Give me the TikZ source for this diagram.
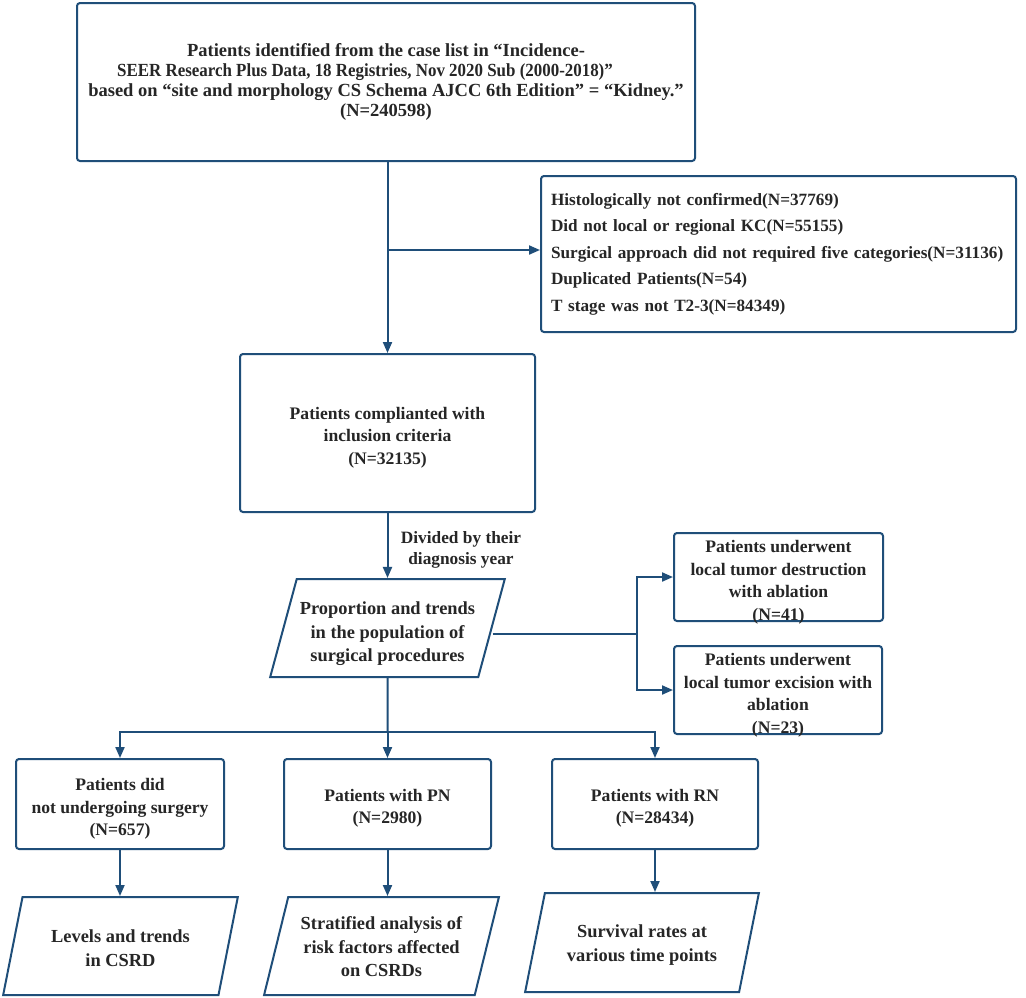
\documentclass[tikz,border=0pt]{standalone}
\usepackage{fontspec}
\setmainfont{Liberation Serif}
\usetikzlibrary{arrows.meta,shapes.geometric}
\definecolor{lineblue}{RGB}{31,78,121}
\definecolor{txt}{RGB}{38,38,38}
\newcommand\Lift[1]{\rule{0pt}{#1}}
\begin{document}
\begin{tikzpicture}[x=1pt,y=-1pt,
  box/.style={draw=lineblue,line width=2pt,rounded corners=3pt,inner sep=0pt,align=center,text=txt,font=\bfseries\fontsize{17.6}{22.5}\selectfont},
  para/.style={draw=lineblue,line width=2pt,trapezium,trapezium left angle=71.4,trapezium right angle=108.6,trapezium stretches=true,inner sep=0pt,align=center,text=txt,font=\bfseries\fontsize{18.4}{23.5}\selectfont},
  conn/.style={draw=lineblue,line width=2pt},
  arr/.style={conn,-{Triangle[length=11pt,width=9pt]}},
  lbl/.style={align=center,text=txt,font=\bfseries\fontsize{17.3}{21}\selectfont}]
\useasboundingbox (0,0) rectangle (1026,997);
\fill[white] (0,0) rectangle (1026,997);
% top box
\node[box,minimum width=618pt,minimum height=158pt,font=\bfseries\fontsize{18.5}{20}\selectfont] (top) at (386,82)
 {Patients identified from the case list in “Incidence-\\\scalebox{0.915}[1]{SEER Research Plus Data, 18 Registries, Nov 2020 Sub (2000-2018)”}\hbox to 42pt{}\\based on “site and morphology CS Schema AJCC 6th Edition” = “Kidney.”\\(N=240598)};
% exclusion box
\node[box,minimum width=475pt,minimum height=156pt,align=left,font=\bfseries\fontsize{17.2}{26.5}\selectfont,text width=455pt] (excl) at (778.5,254)
 {Histologically not confirmed(N=37769)\\Did not local or regional KC(N=55155)\\Surgical approach did not required five categories(N=31136)\\Duplicated Patients(N=54)\\T stage was not T2-3(N=84349)};
% middle box
\node[box,minimum width=295pt,minimum height=158pt] (mid) at (387.5,433)
 {\Lift{21pt}Patients complianted with\\inclusion criteria\\(N=32135)};
% label
\node[lbl] (div) at (461,550) {Divided by their\\diagnosis year};
% parallelogram 1
\node[para,minimum width=235pt,minimum height=98pt] (p1) at (387.5,628)
 {\Lift{25pt}Proportion and trends\\in the population of\\surgical procedures};
% right boxes
\node[box,minimum width=209pt,minimum height=88pt] (r1) at (778.5,577)
 {\Lift{19pt}Patients underwent\\local tumor destruction\\with ablation\\\smash{(N=41)}};
\node[box,minimum width=208pt,minimum height=88pt] (r2) at (778,690)
 {\Lift{19pt}Patients underwent\\local tumor excision with\\ablation\\\smash{(N=23)}};
% bottom boxes
\node[box,minimum width=208pt,minimum height=90pt] (ba) at (120,804)
 {\Lift{22pt}Patients did\\not undergoing surgery\\(N=657)};
\node[box,minimum width=207pt,minimum height=90pt] (bb) at (387.5,804)
 {\Lift{21pt}Patients with PN\\(N=2980)};
\node[box,minimum width=206pt,minimum height=90pt] (bc) at (655,804)
 {\Lift{21pt}Patients with RN\\(N=28434)};
% bottom parallelograms
\node[para,minimum width=235pt,minimum height=98pt] (pa) at (120.5,946)
 {\Lift{17pt}Levels and trends\\in CSRD};
\node[para,minimum width=235pt,minimum height=98pt] (pb) at (381.5,946)
 {\Lift{15pt}Stratified analysis of\\risk factors affected\\on CSRDs};
\node[para,minimum width=234pt,minimum height=99pt] (pc) at (642,942.5)
 {\Lift{18pt}Survival rates at\\various time points};
% connectors
\coordinate (j1) at (388,250);
\draw[arr] (mid.north |- top.south) -- (mid.north);
\draw[arr] (j1) -- (j1 -| excl.west);
\draw[arr] (mid.south) -- (mid.south |- p1.north);
\coordinate (j2) at (637,634);
\draw[conn] (p1.east |- j2) -- (j2);
\draw[arr] (j2) |- (r1.west);
\draw[arr] (j2) |- (r2.west);
\coordinate (j3) at (387.5,732);
\draw[conn] (p1.south) -- (j3);
\draw[arr] (j3) -| (ba.north);
\draw[arr] (j3) -- (bb.north);
\draw[arr] (j3) -| (bc.north);
\draw[arr] (ba.south) -- (ba.south |- pa.north);
\draw[arr] (bb.south) -- (bb.south |- pb.north);
\draw[arr] (bc.south) -- (bc.south |- pc.north);
\end{tikzpicture}
\end{document}
